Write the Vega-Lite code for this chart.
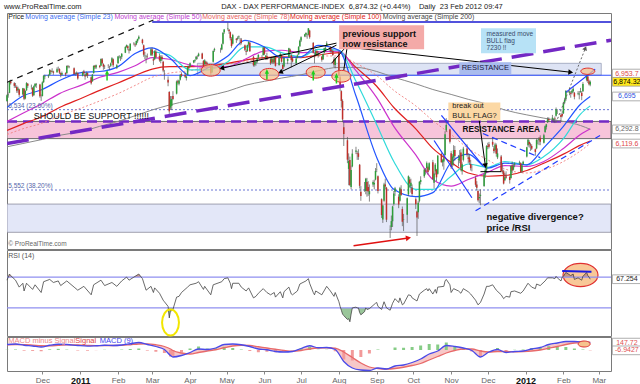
{
"$schema":"https://vega.github.io/schema/vega-lite/v6.json",
"background":"white",
"padding":{"left":3,"top":3,"right":0,"bottom":0},
"autosize":{"type":"pad"},
"bounds":"flush",
"spacing":1,
"title":{"text":"www.ProRealTime.com\u00a0\u00a0\u00a0\u00a0\u00a0\u00a0\u00a0\u00a0\u00a0\u00a0\u00a0\u00a0\u00a0\u00a0\u00a0\u00a0\u00a0\u00a0\u00a0\u00a0\u00a0\u00a0\u00a0\u00a0\u00a0\u00a0\u00a0\u00a0\u00a0\u00a0\u00a0\u00a0\u00a0\u00a0\u00a0\u00a0\u00a0\u00a0\u00a0\u00a0\u00a0\u00a0\u00a0\u00a0\u00a0\u00a0\u00a0\u00a0\u00a0\u00a0\u00a0\u00a0\u00a0\u00a0\u00a0\u00a0\u00a0\u00a0\u00a0\u00a0\u00a0\u00a0\u00a0\u00a0\u00a0\u00a0\u00a0DAX - DAX PERFORMANCE-INDEX\u00a0\u00a06,874.32 (+0.44%)\u00a0\u00a0\u00a0\u00a0Daily\u00a0\u00a023 Feb 2012 09:47","anchor":"start","fontSize":7.5,"fontWeight":"normal","font":"Liberation Sans","color":"#222","offset":2},
"config":{"view":{"stroke":"#7a7a7a","strokeWidth":1},"font":"Liberation Sans","axis":{"labelFont":"Liberation Sans","labelFontSize":8,"labelColor":"#333"}},
"datasets":{
"px":[
{"d":"2010-11-02","o":6640,"h":6720,"l":6630,"c":6709},{"d":"2010-11-03","o":6709,"h":6745,"l":6680,"c":6718},{"d":"2010-11-04","o":6740,"h":6890,"l":6735,"c":6880},{"d":"2010-11-05","o":6880,"h":6900,"l":6840,"c":6857},{"d":"2010-11-08","o":6857,"h":6870,"l":6800,"c":6825},{"d":"2010-11-09","o":6825,"h":6860,"l":6800,"c":6821},{"d":"2010-11-10","o":6810,"h":6830,"l":6740,"c":6766},{"d":"2010-11-11","o":6770,"h":6815,"l":6740,"c":6791},{"d":"2010-11-12","o":6780,"h":6790,"l":6690,"c":6717},{"d":"2010-11-15","o":6720,"h":6800,"l":6715,"c":6794},{"d":"2010-11-16","o":6790,"h":6795,"l":6650,"c":6666},{"d":"2010-11-17","o":6670,"h":6770,"l":6660,"c":6765},{"d":"2010-11-18","o":6770,"h":6870,"l":6765,"c":6858},{"d":"2010-11-19","o":6850,"h":6860,"l":6800,"c":6826},{"d":"2010-11-22","o":6820,"h":6840,"l":6780,"c":6822},{"d":"2010-11-23","o":6800,"h":6810,"l":6690,"c":6705},{"d":"2010-11-24","o":6710,"h":6830,"l":6705,"c":6819},{"d":"2010-11-25","o":6820,"h":6855,"l":6810,"c":6849},{"d":"2010-11-26","o":6840,"h":6860,"l":6800,"c":6848},{"d":"2010-11-29","o":6840,"h":6850,"l":6680,"c":6697},{"d":"2010-11-30","o":6690,"h":6720,"l":6640,"c":6688},
{"d":"2010-12-01","o":6700,"h":6880,"l":6695,"c":6867},{"d":"2010-12-02","o":6870,"h":6955,"l":6860,"c":6948},{"d":"2010-12-03","o":6940,"h":6960,"l":6905,"c":6947},{"d":"2010-12-06","o":6940,"h":6965,"l":6920,"c":6955},{"d":"2010-12-07","o":6960,"h":7030,"l":6955,"c":7018},{"d":"2010-12-08","o":7010,"h":7020,"l":6970,"c":6996},{"d":"2010-12-09","o":7000,"h":7040,"l":6990,"c":7006},{"d":"2010-12-10","o":7000,"h":7010,"l":6960,"c":6985},{"d":"2010-12-13","o":6990,"h":7050,"l":6985,"c":7027},{"d":"2010-12-14","o":7030,"h":7060,"l":7010,"c":7030},{"d":"2010-12-15","o":7030,"h":7040,"l":6970,"c":6986},{"d":"2010-12-16","o":6980,"h":6990,"l":6930,"c":6961},{"d":"2010-12-17","o":6960,"h":7000,"l":6950,"c":6982},{"d":"2010-12-20","o":6980,"h":6990,"l":6940,"c":6964},{"d":"2010-12-21","o":6980,"h":7075,"l":6975,"c":7068},{"d":"2010-12-22","o":7065,"h":7080,"l":7040,"c":7057},{"d":"2010-12-23","o":7055,"h":7070,"l":7040,"c":7057},{"d":"2010-12-27","o":7040,"h":7050,"l":6960,"c":6971},{"d":"2010-12-28","o":6975,"h":6990,"l":6950,"c":6973},{"d":"2010-12-29","o":6975,"h":7000,"l":6960,"c":6984},{"d":"2010-12-30","o":6980,"h":6990,"l":6900,"c":6914},
{"d":"2011-01-03","o":6950,"h":7000,"l":6940,"c":6990},{"d":"2011-01-04","o":7000,"h":7020,"l":6960,"c":6975},{"d":"2011-01-05","o":6960,"h":6970,"l":6900,"c":6939},{"d":"2011-01-06","o":6950,"h":7000,"l":6940,"c":6981},{"d":"2011-01-07","o":6980,"h":6990,"l":6920,"c":6948},{"d":"2011-01-10","o":6930,"h":6940,"l":6840,"c":6857},{"d":"2011-01-11","o":6880,"h":6970,"l":6875,"c":6962},{"d":"2011-01-12","o":6980,"h":7075,"l":6975,"c":7068},{"d":"2011-01-13","o":7070,"h":7080,"l":7030,"c":7053},{"d":"2011-01-14","o":7050,"h":7085,"l":7030,"c":7076},{"d":"2011-01-17","o":7070,"h":7080,"l":7040,"c":7055},{"d":"2011-01-18","o":7070,"h":7160,"l":7065,"c":7154},{"d":"2011-01-19","o":7150,"h":7165,"l":7090,"c":7100},{"d":"2011-01-20","o":7090,"h":7100,"l":7020,"c":7059},{"d":"2011-01-21","o":7060,"h":7080,"l":7030,"c":7062},{"d":"2011-01-24","o":7070,"h":7090,"l":7040,"c":7067},{"d":"2011-01-25","o":7060,"h":7070,"l":7020,"c":7059},{"d":"2011-01-26","o":7070,"h":7110,"l":7055,"c":7099},{"d":"2011-01-27","o":7110,"h":7175,"l":7100,"c":7162},{"d":"2011-01-28","o":7150,"h":7160,"l":7050,"c":7078},{"d":"2011-01-31","o":7050,"h":7090,"l":7030,"c":7077},
{"d":"2011-02-01","o":7100,"h":7190,"l":7095,"c":7184},{"d":"2011-02-02","o":7180,"h":7200,"l":7160,"c":7182},{"d":"2011-02-03","o":7170,"h":7190,"l":7130,"c":7176},{"d":"2011-02-04","o":7180,"h":7225,"l":7150,"c":7217},{"d":"2011-02-07","o":7230,"h":7310,"l":7225,"c":7300},{"d":"2011-02-08","o":7300,"h":7330,"l":7290,"c":7322},{"d":"2011-02-09","o":7310,"h":7320,"l":7260,"c":7283},{"d":"2011-02-10","o":7270,"h":7280,"l":7220,"c":7257},{"d":"2011-02-11","o":7260,"h":7345,"l":7250,"c":7338},{"d":"2011-02-14","o":7340,"h":7360,"l":7320,"c":7336},{"d":"2011-02-15","o":7330,"h":7345,"l":7300,"c":7322},{"d":"2011-02-16","o":7330,"h":7380,"l":7320,"c":7373},{"d":"2011-02-17","o":7370,"h":7400,"l":7350,"c":7399},{"d":"2011-02-18","o":7400,"h":7441,"l":7390,"c":7426},{"d":"2011-02-21","o":7390,"h":7400,"l":7330,"c":7348},{"d":"2011-02-22","o":7320,"h":7330,"l":7180,"c":7205},{"d":"2011-02-23","o":7200,"h":7240,"l":7150,"c":7202},{"d":"2011-02-24","o":7180,"h":7200,"l":7100,"c":7182},{"d":"2011-02-25","o":7190,"h":7220,"l":7160,"c":7185},{"d":"2011-02-28","o":7200,"h":7290,"l":7190,"c":7272},
{"d":"2011-03-01","o":7270,"h":7290,"l":7190,"c":7207},{"d":"2011-03-02","o":7150,"h":7170,"l":7080,"c":7133},{"d":"2011-03-03","o":7150,"h":7260,"l":7140,"c":7247},{"d":"2011-03-04","o":7240,"h":7270,"l":7160,"c":7178},{"d":"2011-03-07","o":7190,"h":7220,"l":7120,"c":7137},{"d":"2011-03-08","o":7130,"h":7200,"l":7100,"c":7178},{"d":"2011-03-09","o":7180,"h":7200,"l":7130,"c":7150},{"d":"2011-03-10","o":7120,"h":7130,"l":6990,"c":7012},{"d":"2011-03-11","o":6980,"h":7020,"l":6900,"c":6981},{"d":"2011-03-14","o":6900,"h":6940,"l":6820,"c":6866},{"d":"2011-03-15","o":6750,"h":6760,"l":6450,"c":6513},{"d":"2011-03-16","o":6560,"h":6700,"l":6530,"c":6657},{"d":"2011-03-17","o":6580,"h":6700,"l":6530,"c":6663},{"d":"2011-03-18","o":6700,"h":6760,"l":6650,"c":6664},{"d":"2011-03-21","o":6730,"h":6890,"l":6720,"c":6877},{"d":"2011-03-22","o":6880,"h":6900,"l":6840,"c":6867},{"d":"2011-03-23","o":6850,"h":6900,"l":6830,"c":6891},{"d":"2011-03-24","o":6900,"h":6970,"l":6890,"c":6959},{"d":"2011-03-25","o":6970,"h":6990,"l":6930,"c":6947},{"d":"2011-03-28","o":6960,"h":6990,"l":6920,"c":6935},{"d":"2011-03-29","o":6920,"h":6950,"l":6890,"c":6938},{"d":"2011-03-30","o":6960,"h":7070,"l":6955,"c":7060},{"d":"2011-03-31","o":7060,"h":7075,"l":7030,"c":7041},
{"d":"2011-04-01","o":7060,"h":7110,"l":7050,"c":7101},{"d":"2011-04-04","o":7110,"h":7140,"l":7100,"c":7135},{"d":"2011-04-05","o":7130,"h":7150,"l":7110,"c":7140},{"d":"2011-04-06","o":7150,"h":7190,"l":7140,"c":7181},{"d":"2011-04-07","o":7180,"h":7200,"l":7150,"c":7179},{"d":"2011-04-08","o":7190,"h":7230,"l":7180,"c":7217},{"d":"2011-04-11","o":7220,"h":7230,"l":7150,"c":7156},{"d":"2011-04-12","o":7130,"h":7140,"l":7060,"c":7068},{"d":"2011-04-13","o":7090,"h":7150,"l":7080,"c":7136},{"d":"2011-04-14","o":7120,"h":7130,"l":7060,"c":7095},{"d":"2011-04-15","o":7100,"h":7120,"l":7060,"c":7093},{"d":"2011-04-18","o":7070,"h":7080,"l":6945,"c":6978},{"d":"2011-04-19","o":6990,"h":7070,"l":6980,"c":7064},{"d":"2011-04-20","o":7120,"h":7260,"l":7110,"c":7250},{"d":"2011-04-21","o":7260,"h":7290,"l":7240,"c":7276},{"d":"2011-04-26","o":7270,"h":7290,"l":7230,"c":7269},{"d":"2011-04-27","o":7270,"h":7340,"l":7260,"c":7329},{"d":"2011-04-28","o":7340,"h":7480,"l":7330,"c":7475},{"d":"2011-04-29","o":7480,"h":7520,"l":7460,"c":7514},
{"d":"2011-05-02","o":7520,"h":7600,"l":7500,"c":7527},{"d":"2011-05-03","o":7510,"h":7520,"l":7460,"c":7492},{"d":"2011-05-04","o":7480,"h":7490,"l":7380,"c":7407},{"d":"2011-05-05","o":7400,"h":7420,"l":7290,"c":7311},{"d":"2011-05-06","o":7340,"h":7460,"l":7330,"c":7445},{"d":"2011-05-09","o":7400,"h":7410,"l":7350,"c":7387},{"d":"2011-05-10","o":7400,"h":7430,"l":7380,"c":7411},{"d":"2011-05-11","o":7420,"h":7440,"l":7400,"c":7427},{"d":"2011-05-12","o":7390,"h":7410,"l":7320,"c":7391},{"d":"2011-05-13","o":7390,"h":7410,"l":7330,"c":7349},{"d":"2011-05-16","o":7320,"h":7330,"l":7250,"c":7266},{"d":"2011-05-17","o":7250,"h":7270,"l":7200,"c":7240},{"d":"2011-05-18","o":7250,"h":7330,"l":7240,"c":7324},{"d":"2011-05-19","o":7330,"h":7370,"l":7310,"c":7361},{"d":"2011-05-20","o":7350,"h":7360,"l":7240,"c":7248},{"d":"2011-05-23","o":7180,"h":7190,"l":7060,"c":7076},{"d":"2011-05-24","o":7080,"h":7130,"l":7060,"c":7118},{"d":"2011-05-25","o":7100,"h":7130,"l":7070,"c":7112},{"d":"2011-05-26","o":7120,"h":7170,"l":7100,"c":7163},{"d":"2011-05-27","o":7170,"h":7210,"l":7150,"c":7205},{"d":"2011-05-30","o":7190,"h":7200,"l":7150,"c":7189},{"d":"2011-05-31","o":7200,"h":7300,"l":7200,"c":7294},
{"d":"2011-06-01","o":7290,"h":7300,"l":7200,"c":7217},{"d":"2011-06-02","o":7170,"h":7200,"l":7140,"c":7193},{"d":"2011-06-03","o":7190,"h":7230,"l":7140,"c":7155},{"d":"2011-06-06","o":7150,"h":7170,"l":7080,"c":7099},{"d":"2011-06-07","o":7110,"h":7180,"l":7100,"c":7159},{"d":"2011-06-08","o":7150,"h":7160,"l":7090,"c":7111},{"d":"2011-06-09","o":7110,"h":7190,"l":7100,"c":7183},{"d":"2011-06-10","o":7170,"h":7180,"l":7060,"c":7069},{"d":"2011-06-13","o":7080,"h":7170,"l":7070,"c":7162},{"d":"2011-06-14","o":7170,"h":7230,"l":7160,"c":7215},{"d":"2011-06-15","o":7200,"h":7210,"l":7110,"c":7120},{"d":"2011-06-16","o":7080,"h":7100,"l":7010,"c":7032},{"d":"2011-06-17","o":7060,"h":7180,"l":7050,"c":7164},{"d":"2011-06-20","o":7130,"h":7160,"l":7090,"c":7152},{"d":"2011-06-21","o":7170,"h":7290,"l":7165,"c":7285},{"d":"2011-06-22","o":7270,"h":7280,"l":7220,"c":7239},{"d":"2011-06-23","o":7200,"h":7210,"l":7050,"c":7140},{"d":"2011-06-24","o":7160,"h":7180,"l":7110,"c":7122},{"d":"2011-06-27","o":7100,"h":7170,"l":7080,"c":7158},{"d":"2011-06-28","o":7170,"h":7210,"l":7160,"c":7195},{"d":"2011-06-29","o":7210,"h":7310,"l":7200,"c":7301},{"d":"2011-06-30","o":7310,"h":7390,"l":7300,"c":7376},
{"d":"2011-07-01","o":7380,"h":7430,"l":7360,"c":7419},{"d":"2011-07-04","o":7430,"h":7460,"l":7420,"c":7454},{"d":"2011-07-05","o":7450,"h":7480,"l":7420,"c":7472},{"d":"2011-07-06","o":7440,"h":7460,"l":7400,"c":7439},{"d":"2011-07-07","o":7450,"h":7530,"l":7440,"c":7528},{"d":"2011-07-08","o":7500,"h":7510,"l":7400,"c":7419},{"d":"2011-07-11","o":7350,"h":7360,"l":7220,"c":7231},{"d":"2011-07-12","o":7180,"h":7230,"l":7100,"c":7174},{"d":"2011-07-13","o":7200,"h":7270,"l":7190,"c":7248},{"d":"2011-07-14","o":7250,"h":7260,"l":7200,"c":7220},{"d":"2011-07-15","o":7200,"h":7250,"l":7170,"c":7220},{"d":"2011-07-18","o":7180,"h":7190,"l":7120,"c":7144},{"d":"2011-07-19","o":7150,"h":7220,"l":7140,"c":7214},{"d":"2011-07-20","o":7230,"h":7290,"l":7220,"c":7285},{"d":"2011-07-21","o":7270,"h":7310,"l":7240,"c":7291},{"d":"2011-07-22","o":7320,"h":7370,"l":7310,"c":7344},{"d":"2011-07-25","o":7300,"h":7310,"l":7230,"c":7250},{"d":"2011-07-26","o":7260,"h":7290,"l":7230,"c":7253},{"d":"2011-07-27","o":7250,"h":7270,"l":7190,"c":7203},{"d":"2011-07-28","o":7150,"h":7180,"l":7050,"c":7085},{"d":"2011-07-29","o":7080,"h":7170,"l":7040,"c":7158},
{"d":"2011-08-01","o":7230,"h":7250,"l":6940,"c":6954},{"d":"2011-08-02","o":6930,"h":6950,"l":6760,"c":6797},{"d":"2011-08-03","o":6760,"h":6770,"l":6560,"c":6640},{"d":"2011-08-04","o":6640,"h":6660,"l":6380,"c":6415},{"d":"2011-08-05","o":6320,"h":6380,"l":6090,"c":6236},{"d":"2011-08-08","o":6160,"h":6200,"l":5880,"c":5923},{"d":"2011-08-09","o":5810,"h":6000,"l":5610,"c":5906},{"d":"2011-08-10","o":5920,"h":5960,"l":5600,"c":5613},{"d":"2011-08-11","o":5590,"h":5850,"l":5560,"c":5797},{"d":"2011-08-12","o":5840,"h":6050,"l":5830,"c":5997},{"d":"2011-08-15","o":6020,"h":6080,"l":5990,"c":6034},{"d":"2011-08-16","o":6000,"h":6030,"l":5920,"c":5995},{"d":"2011-08-17","o":6000,"h":6050,"l":5920,"c":5957},{"d":"2011-08-18","o":5860,"h":5870,"l":5570,"c":5603},{"d":"2011-08-19","o":5530,"h":5600,"l":5420,"c":5480},{"d":"2011-08-22","o":5560,"h":5650,"l":5530,"c":5562},{"d":"2011-08-23","o":5540,"h":5700,"l":5500,"c":5689},{"d":"2011-08-24","o":5650,"h":5700,"l":5470,"c":5540},{"d":"2011-08-25","o":5590,"h":5660,"l":5480,"c":5534},{"d":"2011-08-26","o":5500,"h":5620,"l":5410,"c":5538},{"d":"2011-08-29","o":5620,"h":5670,"l":5590,"c":5651},{"d":"2011-08-30","o":5620,"h":5680,"l":5560,"c":5638},{"d":"2011-08-31","o":5680,"h":5820,"l":5670,"c":5785},
{"d":"2011-09-01","o":5800,"h":5880,"l":5770,"c":5803},{"d":"2011-09-02","o":5720,"h":5730,"l":5510,"c":5541},{"d":"2011-09-05","o":5440,"h":5450,"l":5210,"c":5246},{"d":"2011-09-06","o":5190,"h":5370,"l":5150,"c":5364},{"d":"2011-09-07","o":5420,"h":5640,"l":5400,"c":5620},{"d":"2011-09-08","o":5620,"h":5690,"l":5560,"c":5595},{"d":"2011-09-09","o":5580,"h":5590,"l":5160,"c":5189},{"d":"2011-09-12","o":5070,"h":5120,"l":4966,"c":5072},{"d":"2011-09-13","o":5100,"h":5240,"l":5060,"c":5172},{"d":"2011-09-14","o":5170,"h":5360,"l":5100,"c":5351},{"d":"2011-09-15","o":5380,"h":5540,"l":5360,"c":5508},{"d":"2011-09-16","o":5530,"h":5590,"l":5480,"c":5573},{"d":"2011-09-19","o":5470,"h":5500,"l":5330,"c":5375},{"d":"2011-09-20","o":5420,"h":5590,"l":5410,"c":5572},{"d":"2011-09-21","o":5560,"h":5610,"l":5480,"c":5492},{"d":"2011-09-22","o":5320,"h":5350,"l":5110,"c":5164},{"d":"2011-09-23","o":5190,"h":5260,"l":5050,"c":5196},{"d":"2011-09-26","o":5250,"h":5460,"l":5150,"c":5450},{"d":"2011-09-27","o":5500,"h":5730,"l":5480,"c":5720},{"d":"2011-09-28","o":5680,"h":5710,"l":5580,"c":5632},{"d":"2011-09-29","o":5600,"h":5690,"l":5520,"c":5640},{"d":"2011-09-30","o":5580,"h":5620,"l":5480,"c":5502},
{"d":"2011-10-03","o":5440,"h":5460,"l":5320,"c":5377},{"d":"2011-10-04","o":5290,"h":5300,"l":4990,"c":5217},{"d":"2011-10-05","o":5280,"h":5420,"l":5200,"c":5396},{"d":"2011-10-06","o":5420,"h":5660,"l":5400,"c":5653},{"d":"2011-10-07","o":5650,"h":5720,"l":5620,"c":5675},{"d":"2011-10-10","o":5720,"h":5810,"l":5700,"c":5800},{"d":"2011-10-11","o":5790,"h":5820,"l":5740,"c":5778},{"d":"2011-10-12","o":5820,"h":5900,"l":5780,"c":5880},{"d":"2011-10-13","o":5830,"h":5850,"l":5740,"c":5772},{"d":"2011-10-14","o":5800,"h":5890,"l":5790,"c":5880},{"d":"2011-10-17","o":5890,"h":5920,"l":5680,"c":5687},{"d":"2011-10-18","o":5640,"h":5780,"l":5570,"c":5754},{"d":"2011-10-19","o":5780,"h":5880,"l":5740,"c":5861},{"d":"2011-10-20","o":5800,"h":5810,"l":5660,"c":5707},{"d":"2011-10-21","o":5750,"h":5980,"l":5740,"c":5971},{"d":"2011-10-24","o":5990,"h":6010,"l":5890,"c":5890},{"d":"2011-10-25","o":5890,"h":5930,"l":5840,"c":5916},{"d":"2011-10-26","o":5900,"h":5990,"l":5800,"c":5940},{"d":"2011-10-27","o":5980,"h":6270,"l":5970,"c":6234},{"d":"2011-10-28","o":6280,"h":6430,"l":6260,"c":6346},{"d":"2011-10-31","o":6290,"h":6300,"l":6120,"c":6141},
{"d":"2011-11-01","o":6000,"h":6030,"l":5810,"c":5834},{"d":"2011-11-02","o":5860,"h":5990,"l":5830,"c":5961},{"d":"2011-11-03","o":5950,"h":6100,"l":5850,"c":6039},{"d":"2011-11-04","o":6040,"h":6090,"l":5910,"c":5966},{"d":"2011-11-07","o":5920,"h":5980,"l":5840,"c":5929},{"d":"2011-11-08","o":5910,"h":6040,"l":5880,"c":5962},{"d":"2011-11-09","o":6010,"h":6050,"l":5780,"c":5824},{"d":"2011-11-10","o":5780,"h":5890,"l":5740,"c":5868},{"d":"2011-11-11","o":5920,"h":6080,"l":5900,"c":6057},{"d":"2011-11-14","o":6060,"h":6110,"l":5960,"c":5985},{"d":"2011-11-15","o":5950,"h":6000,"l":5880,"c":5933},{"d":"2011-11-16","o":5950,"h":5990,"l":5860,"c":5893},{"d":"2011-11-17","o":5870,"h":5920,"l":5790,"c":5819},{"d":"2011-11-18","o":5800,"h":5860,"l":5780,"c":5800},{"d":"2011-11-21","o":5700,"h":5720,"l":5590,"c":5616},{"d":"2011-11-22","o":5620,"h":5660,"l":5550,"c":5580},{"d":"2011-11-23","o":5540,"h":5560,"l":5410,"c":5428},{"d":"2011-11-24","o":5450,"h":5510,"l":5390,"c":5467},{"d":"2011-11-25","o":5480,"h":5560,"l":5366,"c":5493},{"d":"2011-11-28","o":5600,"h":5750,"l":5590,"c":5745},{"d":"2011-11-29","o":5740,"h":5820,"l":5700,"c":5800},{"d":"2011-11-30","o":5800,"h":6100,"l":5760,"c":6089},
{"d":"2011-12-01","o":6090,"h":6130,"l":6050,"c":6081},{"d":"2011-12-02","o":6110,"h":6140,"l":6060,"c":6080},{"d":"2011-12-05","o":6140,"h":6190,"l":6080,"c":6106},{"d":"2011-12-06","o":6060,"h":6090,"l":6000,"c":6029},{"d":"2011-12-07","o":6040,"h":6130,"l":6010,"c":6109},{"d":"2011-12-08","o":6100,"h":6120,"l":5960,"c":5994},{"d":"2011-12-09","o":5950,"h":6060,"l":5930,"c":6000},{"d":"2011-12-12","o":5960,"h":5980,"l":5770,"c":5785},{"d":"2011-12-13","o":5790,"h":5880,"l":5750,"c":5775},{"d":"2011-12-14","o":5780,"h":5800,"l":5620,"c":5631},{"d":"2011-12-15","o":5670,"h":5760,"l":5660,"c":5708},{"d":"2011-12-16","o":5720,"h":5780,"l":5690,"c":5701},{"d":"2011-12-19","o":5710,"h":5730,"l":5630,"c":5673},{"d":"2011-12-20","o":5700,"h":5850,"l":5690,"c":5845},{"d":"2011-12-21","o":5850,"h":5900,"l":5760,"c":5791},{"d":"2011-12-22","o":5800,"h":5870,"l":5790,"c":5848},{"d":"2011-12-23","o":5860,"h":5890,"l":5830,"c":5878},{"d":"2011-12-27","o":5880,"h":5910,"l":5860,"c":5890},{"d":"2011-12-28","o":5880,"h":5890,"l":5760,"c":5771},{"d":"2011-12-29","o":5780,"h":5860,"l":5760,"c":5853},{"d":"2011-12-30","o":5870,"h":5910,"l":5860,"c":5898},
{"d":"2012-01-02","o":5960,"h":6080,"l":5950,"c":6075},{"d":"2012-01-03","o":6100,"h":6180,"l":6080,"c":6166},{"d":"2012-01-04","o":6140,"h":6160,"l":6070,"c":6111},{"d":"2012-01-05","o":6110,"h":6130,"l":6030,"c":6095},{"d":"2012-01-06","o":6090,"h":6110,"l":6040,"c":6057},{"d":"2012-01-09","o":6050,"h":6060,"l":5970,"c":6017},{"d":"2012-01-10","o":6060,"h":6180,"l":6050,"c":6163},{"d":"2012-01-11","o":6150,"h":6170,"l":6110,"c":6152},{"d":"2012-01-12","o":6160,"h":6200,"l":6100,"c":6179},{"d":"2012-01-13","o":6190,"h":6220,"l":6100,"c":6143},{"d":"2012-01-16","o":6130,"h":6240,"l":6120,"c":6221},{"d":"2012-01-17","o":6260,"h":6340,"l":6250,"c":6332},{"d":"2012-01-18","o":6320,"h":6360,"l":6290,"c":6354},{"d":"2012-01-19","o":6380,"h":6440,"l":6370,"c":6416},{"d":"2012-01-20","o":6420,"h":6440,"l":6380,"c":6404},{"d":"2012-01-23","o":6420,"h":6470,"l":6390,"c":6436},{"d":"2012-01-24","o":6410,"h":6430,"l":6380,"c":6419},{"d":"2012-01-25","o":6430,"h":6450,"l":6370,"c":6422},{"d":"2012-01-26","o":6460,"h":6560,"l":6450,"c":6539},{"d":"2012-01-27","o":6510,"h":6540,"l":6480,"c":6511},{"d":"2012-01-30","o":6470,"h":6490,"l":6390,"c":6444},{"d":"2012-01-31","o":6480,"h":6520,"l":6440,"c":6458},
{"d":"2012-02-01","o":6490,"h":6630,"l":6480,"c":6617},{"d":"2012-02-02","o":6620,"h":6680,"l":6600,"c":6655},{"d":"2012-02-03","o":6660,"h":6770,"l":6640,"c":6766},{"d":"2012-02-06","o":6740,"h":6770,"l":6710,"c":6753},{"d":"2012-02-07","o":6740,"h":6760,"l":6680,"c":6728},{"d":"2012-02-08","o":6740,"h":6780,"l":6720,"c":6764},{"d":"2012-02-09","o":6760,"h":6810,"l":6740,"c":6788},{"d":"2012-02-10","o":6740,"h":6750,"l":6660,"c":6692},{"d":"2012-02-13","o":6730,"h":6760,"l":6710,"c":6738},{"d":"2012-02-14","o":6720,"h":6760,"l":6660,"c":6729},{"d":"2012-02-15","o":6750,"h":6800,"l":6740,"c":6760},{"d":"2012-02-16","o":6740,"h":6760,"l":6650,"c":6700},{"d":"2012-02-17","o":6760,"h":6870,"l":6750,"c":6848},{"d":"2012-02-20","o":6900,"h":6960,"l":6880,"c":6949},{"d":"2012-02-21","o":6940,"h":6960,"l":6860,"c":6885},{"d":"2012-02-22","o":6880,"h":6900,"l":6830,"c":6843},{"d":"2012-02-23","o":6840,"h":6890,"l":6820,"c":6874}
],
"ma":[
{"d":"2010-11-02","b":6560,"cy":null,"mg":6390,"r1":6280,"r2":6230,"g":6080},
{"d":"2010-11-15","b":6700,"cy":null,"mg":6490,"r1":6360,"r2":6300,"g":6120},
{"d":"2010-12-01","b":6780,"cy":null,"mg":6610,"r1":6450,"r2":6370,"g":6170},
{"d":"2010-12-15","b":6890,"cy":null,"mg":6730,"r1":6560,"r2":6460,"g":6220},
{"d":"2011-01-03","b":6990,"cy":null,"mg":6840,"r1":6680,"r2":6560,"g":6270},
{"d":"2011-01-17","b":7000,"cy":null,"mg":6930,"r1":6770,"r2":6640,"g":6330},
{"d":"2011-02-01","b":7060,"cy":null,"mg":6990,"r1":6860,"r2":6730,"g":6390},
{"d":"2011-02-15","b":7220,"cy":null,"mg":7070,"r1":6950,"r2":6830,"g":6460},
{"d":"2011-03-01","b":7290,"cy":7240,"mg":7170,"r1":7030,"r2":6930,"g":6530},
{"d":"2011-03-15","b":7170,"cy":7200,"mg":7150,"r1":7060,"r2":6980,"g":6590},
{"d":"2011-04-01","b":6950,"cy":7020,"mg":7080,"r1":7060,"r2":7010,"g":6650},
{"d":"2011-04-15","b":7040,"cy":7020,"mg":7050,"r1":7070,"r2":7050,"g":6700},
{"d":"2011-05-02","b":7190,"cy":7120,"mg":7060,"r1":7100,"r2":7090,"g":6760},
{"d":"2011-05-16","b":7380,"cy":7300,"mg":7150,"r1":7140,"r2":7120,"g":6830},
{"d":"2011-06-01","b":7300,"cy":7300,"mg":7250,"r1":7170,"r2":7150,"g":6880},
{"d":"2011-06-15","b":7170,"cy":7230,"mg":7260,"r1":7180,"r2":7160,"g":6920},
{"d":"2011-07-01","b":7180,"cy":7180,"mg":7230,"r1":7170,"r2":7180,"g":6960},
{"d":"2011-07-15","b":7320,"cy":7270,"mg":7240,"r1":7200,"r2":7190,"g":7010},
{"d":"2011-08-01","b":7260,"cy":7260,"mg":7250,"r1":7230,"r2":7190,"g":7050},
{"d":"2011-08-15","b":6700,"cy":6880,"mg":7010,"r1":7050,"r2":7100,"g":7050},
{"d":"2011-09-01","b":5950,"cy":6350,"mg":6680,"r1":6820,"r2":6950,"g":7000},
{"d":"2011-09-15","b":5560,"cy":5900,"mg":6330,"r1":6560,"r2":6770,"g":6930},
{"d":"2011-10-03","b":5470,"cy":5560,"mg":5980,"r1":6300,"r2":6580,"g":6850},
{"d":"2011-10-17","b":5520,"cy":5560,"mg":5680,"r1":6060,"r2":6400,"g":6780},
{"d":"2011-11-01","b":5890,"cy":5720,"mg":5600,"r1":5890,"r2":6230,"g":6720},
{"d":"2011-11-15","b":5990,"cy":5870,"mg":5680,"r1":5760,"r2":6060,"g":6660},
{"d":"2011-12-01","b":5820,"cy":5830,"mg":5770,"r1":5720,"r2":5920,"g":6600},
{"d":"2011-12-15","b":5880,"cy":5900,"mg":5850,"r1":5730,"r2":5810,"g":6530},
{"d":"2012-01-02","b":5860,"cy":5860,"mg":5840,"r1":5790,"r2":5760,"g":6470},
{"d":"2012-01-16","b":6070,"cy":5960,"mg":5900,"r1":5880,"r2":5800,"g":6430},
{"d":"2012-02-01","b":6330,"cy":6180,"mg":6060,"r1":5990,"r2":5900,"g":6390},
{"d":"2012-02-15","b":6600,"cy":6480,"mg":6230,"r1":6100,"r2":6030,"g":6340},
{"d":"2012-02-23","b":6695,"cy":6580,"mg":6300,"r1":6150,"r2":6120,"g":6293}
],
"rsi":[
{"d":"2010-11-02","v":66},{"d":"2010-11-03","v":70},{"d":"2010-11-04","v":74},{"d":"2010-11-05","v":72},{"d":"2010-11-09","v":66},{"d":"2010-11-12","v":57},{"d":"2010-11-15","v":62},{"d":"2010-11-16","v":52},{"d":"2010-11-18","v":62},{"d":"2010-11-23","v":54},{"d":"2010-11-25","v":60},{"d":"2010-11-30","v":50},{"d":"2010-12-02","v":64},{"d":"2010-12-07","v":67},{"d":"2010-12-10","v":63},{"d":"2010-12-14","v":65},{"d":"2010-12-16","v":59},{"d":"2010-12-21","v":65},{"d":"2010-12-27","v":57},{"d":"2010-12-30","v":53},
{"d":"2011-01-04","v":58},{"d":"2011-01-10","v":47},{"d":"2011-01-12","v":60},{"d":"2011-01-18","v":66},{"d":"2011-01-21","v":59},{"d":"2011-01-27","v":63},{"d":"2011-01-31","v":58},{"d":"2011-02-04","v":65},{"d":"2011-02-08","v":70},{"d":"2011-02-10","v":66},{"d":"2011-02-14","v":70},{"d":"2011-02-18","v":74},{"d":"2011-02-21","v":68},{"d":"2011-02-24","v":53},{"d":"2011-02-28","v":58},{"d":"2011-03-02","v":50},{"d":"2011-03-03","v":56},{"d":"2011-03-07","v":49},{"d":"2011-03-10","v":40},{"d":"2011-03-11","v":38},{"d":"2011-03-14","v":32},{"d":"2011-03-15","v":17},{"d":"2011-03-16","v":27},{"d":"2011-03-17","v":26},{"d":"2011-03-18","v":28},{"d":"2011-03-21","v":44},{"d":"2011-03-23","v":45},{"d":"2011-03-25","v":50},{"d":"2011-03-30","v":57},{"d":"2011-04-01","v":60},{"d":"2011-04-06","v":62},{"d":"2011-04-08","v":64},{"d":"2011-04-12","v":54},{"d":"2011-04-13","v":58},{"d":"2011-04-18","v":47},{"d":"2011-04-20","v":60},{"d":"2011-04-27","v":64},{"d":"2011-04-29","v":68},{"d":"2011-05-02","v":69},{"d":"2011-05-04","v":62},{"d":"2011-05-05","v":55},{"d":"2011-05-06","v":62},{"d":"2011-05-11","v":62},{"d":"2011-05-13","v":57},{"d":"2011-05-17","v":52},{"d":"2011-05-19","v":56},{"d":"2011-05-23","v":43},{"d":"2011-05-25","v":45},{"d":"2011-05-27","v":49},{"d":"2011-05-31","v":55},{"d":"2011-06-03","v":50},{"d":"2011-06-06","v":47},{"d":"2011-06-09","v":50},{"d":"2011-06-10","v":44},{"d":"2011-06-14","v":51},{"d":"2011-06-16","v":43},{"d":"2011-06-17","v":51},{"d":"2011-06-21","v":57},{"d":"2011-06-23","v":48},{"d":"2011-06-24","v":47},{"d":"2011-06-28","v":52},{"d":"2011-06-30","v":61},{"d":"2011-07-05","v":65},{"d":"2011-07-07","v":68},{"d":"2011-07-08","v":62},{"d":"2011-07-11","v":50},{"d":"2011-07-12","v":47},{"d":"2011-07-13","v":52},{"d":"2011-07-18","v":47},{"d":"2011-07-22","v":58},{"d":"2011-07-25","v":52},{"d":"2011-07-28","v":45},{"d":"2011-07-29","v":50},
{"d":"2011-08-01","v":38},{"d":"2011-08-02","v":32},{"d":"2011-08-03","v":27},{"d":"2011-08-04","v":22},{"d":"2011-08-05","v":20},{"d":"2011-08-08","v":15},{"d":"2011-08-09","v":16},{"d":"2011-08-10","v":12},{"d":"2011-08-11","v":22},{"d":"2011-08-12","v":30},{"d":"2011-08-15","v":31},{"d":"2011-08-16","v":30},{"d":"2011-08-17","v":30},{"d":"2011-08-18","v":24},{"d":"2011-08-19","v":21},{"d":"2011-08-22","v":25},{"d":"2011-08-23","v":30},{"d":"2011-08-24","v":28},{"d":"2011-08-26","v":29},{"d":"2011-08-31","v":36},{"d":"2011-09-01","v":37},{"d":"2011-09-02","v":32},{"d":"2011-09-05","v":28},{"d":"2011-09-07","v":38},{"d":"2011-09-09","v":30},{"d":"2011-09-12","v":27},{"d":"2011-09-14","v":36},{"d":"2011-09-16","v":42},{"d":"2011-09-19","v":37},{"d":"2011-09-20","v":43},{"d":"2011-09-22","v":34},{"d":"2011-09-23","v":35},{"d":"2011-09-27","v":47},{"d":"2011-09-29","v":46},{"d":"2011-09-30","v":43},{"d":"2011-10-04","v":39},{"d":"2011-10-06","v":48},{"d":"2011-10-10","v":53},{"d":"2011-10-12","v":55},{"d":"2011-10-13","v":52},{"d":"2011-10-14","v":55},{"d":"2011-10-17","v":48},{"d":"2011-10-19","v":54},{"d":"2011-10-20","v":49},{"d":"2011-10-21","v":57},{"d":"2011-10-26","v":58},{"d":"2011-10-27","v":65},{"d":"2011-10-28","v":67},{"d":"2011-10-31","v":60},{"d":"2011-11-01","v":50},{"d":"2011-11-03","v":55},{"d":"2011-11-07","v":52},{"d":"2011-11-09","v":49},{"d":"2011-11-11","v":55},{"d":"2011-11-15","v":51},{"d":"2011-11-17","v":48},{"d":"2011-11-21","v":40},{"d":"2011-11-23","v":34},{"d":"2011-11-25","v":37},{"d":"2011-11-28","v":48},{"d":"2011-11-30","v":58},{"d":"2011-12-02","v":58},{"d":"2011-12-05","v":60},{"d":"2011-12-08","v":53},{"d":"2011-12-12","v":47},{"d":"2011-12-14","v":42},{"d":"2011-12-16","v":45},{"d":"2011-12-19","v":44},{"d":"2011-12-20","v":51},{"d":"2011-12-23","v":52},{"d":"2011-12-28","v":49},{"d":"2011-12-30","v":52},
{"d":"2012-01-03","v":62},{"d":"2012-01-06","v":57},{"d":"2012-01-09","v":55},{"d":"2012-01-10","v":61},{"d":"2012-01-13","v":59},{"d":"2012-01-17","v":65},{"d":"2012-01-19","v":69},{"d":"2012-01-23","v":69},{"d":"2012-01-25","v":68},{"d":"2012-01-26","v":71},{"d":"2012-01-27","v":69},{"d":"2012-01-30","v":65},{"d":"2012-01-31","v":70},{"d":"2012-02-01","v":71},{"d":"2012-02-03","v":76},{"d":"2012-02-07","v":72},{"d":"2012-02-09","v":74},{"d":"2012-02-10","v":67},{"d":"2012-02-13","v":69},{"d":"2012-02-16","v":66},{"d":"2012-02-17","v":71},{"d":"2012-02-20","v":76},{"d":"2012-02-21","v":72},{"d":"2012-02-22","v":70},{"d":"2012-02-23","v":67.254}
],
"macd":[
{"d":"2010-11-02","m":110,"s":105,"h":5},{"d":"2010-11-09","m":120,"s":110,"h":10},{"d":"2010-11-16","m":95,"s":108,"h":-13},{"d":"2010-11-23","m":80,"s":98,"h":-18},{"d":"2010-11-30","m":60,"s":85,"h":-25},{"d":"2010-12-07","m":95,"s":82,"h":13},{"d":"2010-12-14","m":115,"s":92,"h":23},{"d":"2010-12-21","m":110,"s":102,"h":8},{"d":"2010-12-30","m":90,"s":100,"h":-10},{"d":"2011-01-07","m":78,"s":92,"h":-14},{"d":"2011-01-14","m":85,"s":88,"h":-3},{"d":"2011-01-21","m":95,"s":90,"h":5},{"d":"2011-01-28","m":90,"s":90,"h":0},{"d":"2011-02-04","m":100,"s":92,"h":8},{"d":"2011-02-11","m":125,"s":105,"h":20},{"d":"2011-02-18","m":150,"s":120,"h":30},{"d":"2011-02-25","m":110,"s":122,"h":-12},{"d":"2011-03-04","m":70,"s":105,"h":-35},{"d":"2011-03-11","m":10,"s":70,"h":-60},{"d":"2011-03-16","m":-110,"s":20,"h":-130},{"d":"2011-03-18","m":-140,"s":-10,"h":-130},{"d":"2011-03-25","m":-110,"s":-60,"h":-50},{"d":"2011-04-01","m":-50,"s":-80,"h":30},{"d":"2011-04-08","m":20,"s":-50,"h":70},{"d":"2011-04-15","m":10,"s":-20,"h":30},{"d":"2011-04-22","m":40,"s":5,"h":35},{"d":"2011-04-29","m":110,"s":45,"h":65},{"d":"2011-05-06","m":120,"s":80,"h":40},{"d":"2011-05-13","m":105,"s":95,"h":10},{"d":"2011-05-20","m":70,"s":90,"h":-20},{"d":"2011-05-27","m":20,"s":65,"h":-45},{"d":"2011-06-03","m":5,"s":40,"h":-35},{"d":"2011-06-10","m":-30,"s":15,"h":-45},{"d":"2011-06-17","m":-40,"s":-10,"h":-30},{"d":"2011-06-24","m":-30,"s":-25,"h":-5},{"d":"2011-07-01","m":30,"s":-10,"h":40},{"d":"2011-07-08","m":85,"s":20,"h":65},{"d":"2011-07-15","m":45,"s":40,"h":5},{"d":"2011-07-22","m":50,"s":45,"h":5},{"d":"2011-07-29","m":10,"s":35,"h":-25},{"d":"2011-08-05","m":-230,"s":-40,"h":-190},{"d":"2011-08-12","m":-360,"s":-150,"h":-210},{"d":"2011-08-19","m":-400,"s":-260,"h":-140},{"d":"2011-08-26","m":-410,"s":-340,"h":-70},{"d":"2011-09-02","m":-360,"s":-370,"h":10},{"d":"2011-09-09","m":-380,"s":-380,"h":0},{"d":"2011-09-16","m":-320,"s":-370,"h":50},{"d":"2011-09-23","m":-300,"s":-345,"h":45},{"d":"2011-09-30","m":-250,"s":-310,"h":60},{"d":"2011-10-07","m":-180,"s":-270,"h":90},{"d":"2011-10-14","m":-80,"s":-200,"h":120},{"d":"2011-10-21","m":-20,"s":-130,"h":110},{"d":"2011-10-28","m":90,"s":-60,"h":150},{"d":"2011-11-04","m":70,"s":-10,"h":80},{"d":"2011-11-11","m":40,"s":20,"h":20},{"d":"2011-11-18","m":-10,"s":20,"h":-30},{"d":"2011-11-25","m":-140,"s":-20,"h":-120},{"d":"2011-12-02","m":-40,"s":-40,"h":0},{"d":"2011-12-09","m":10,"s":-30,"h":40},{"d":"2011-12-16","m":-50,"s":-30,"h":-20},{"d":"2011-12-23","m":-30,"s":-35,"h":5},{"d":"2011-12-30","m":-20,"s":-30,"h":10},{"d":"2012-01-06","m":20,"s":-20,"h":40},{"d":"2012-01-13","m":50,"s":0,"h":50},{"d":"2012-01-20","m":110,"s":35,"h":75},{"d":"2012-01-27","m":140,"s":70,"h":70},{"d":"2012-02-03","m":170,"s":110,"h":60},{"d":"2012-02-10","m":170,"s":140,"h":30},{"d":"2012-02-17","m":160,"s":150,"h":10},{"d":"2012-02-23","m":147.72,"s":154.66,"h":-6.94}
]
},
"vconcat":[
{
"width":604,"height":236,
"resolve":{"scale":{"color":"independent","fill":"independent"}},
"encoding":{"x":{"field":"d","type":"temporal","scale":{"type":"utc","domain":[{"year":2010,"month":11,"date":2,"utc":true},{"year":2012,"month":3,"date":11,"utc":true}]},"axis":null}},
"layer":[
{"data":{"values":[{"d":"2010-11-02","d2":"2012-03-11","p":5035,"p2":5380}],"format":{"parse":{"d":"date","d2":"date"}}},"mark":{"type":"rect","fill":"#e3e7f8","stroke":"#8c8c9c","strokeWidth":0.8,"clip":true},"encoding":{"x2":{"field":"d2"},"y":{"field":"p","type":"quantitative","scale":{"domain":[4831,7715]},"title":null,"axis":{"orient":"right","values":[5000,5500,6000,6500,7000,7500],"format":",","grid":true,"gridColor":"#e2e2e2","tickSize":3,"tickColor":"#888","labelFontSize":8,"labelColor":"#333","domain":false,"labelPadding":2}},"y2":{"field":"p2"}}},
{"data":{"values":[{"d":"2010-11-02","d2":"2012-03-11","p":6180,"p2":6390}],"format":{"parse":{"d":"date","d2":"date"}}},"mark":{"type":"rect","fill":"#f7c4da","stroke":"#6a6a6a","strokeWidth":1,"clip":true},"encoding":{"x2":{"field":"d2"},"y":{"field":"p","type":"quantitative","scale":{"domain":[4831,7715]},"axis":null},"y2":{"field":"p2"}}},
{"data":{"values":[{"d":"2011-04-07","d2":"2012-03-03","p":6955,"p2":7100}],"format":{"parse":{"d":"date","d2":"date"}}},"mark":{"type":"rect","fill":"#dde3f4","stroke":"#98a0b8","strokeWidth":0.8},"encoding":{"x2":{"field":"d2"},"y":{"field":"p","type":"quantitative","scale":{"domain":[4831,7715]},"axis":null},"y2":{"field":"p2"}}},
{"data":{"values":[{"d":"2011-03-01","d2":"2012-03-11","p":7604}],"format":{"parse":{"d":"date","d2":"date"}}},"mark":{"type":"rule","color":"#1818d0","strokeWidth":1.5,"clip":true},"encoding":{"x2":{"field":"d2"},"y":{"field":"p","type":"quantitative","scale":{"domain":[4831,7715]},"axis":null}}},
{"data":{"values":[{"d":"2010-12-02","d2":"2012-03-11","p":6954}],"format":{"parse":{"d":"date","d2":"date"}}},"mark":{"type":"rule","color":"#3050ff","strokeWidth":1.2,"clip":true},"encoding":{"x2":{"field":"d2"},"y":{"field":"p","type":"quantitative","scale":{"domain":[4831,7715]},"axis":null}}},
{"data":{"values":[{"d":"2010-11-02","d2":"2012-03-11","p":6534},{"d":"2010-11-02","d2":"2012-03-11","p":5552}],"format":{"parse":{"d":"date","d2":"date"}}},"mark":{"type":"rule","color":"#5a68d0","strokeWidth":0.9,"strokeDash":[2,2],"clip":true},"encoding":{"x2":{"field":"d2"},"y":{"field":"p","type":"quantitative","scale":{"domain":[4831,7715]},"axis":null}}},
{"data":{"values":[{"d":"2010-11-02","d2":"2012-03-11","p":6390}],"format":{"parse":{"d":"date","d2":"date"}}},"mark":{"type":"rule","color":"#7328c4","strokeWidth":2.5,"strokeDash":[10,6],"clip":true},"encoding":{"x2":{"field":"d2"},"y":{"field":"p","type":"quantitative","scale":{"domain":[4831,7715]},"axis":null}}},
{"data":{"name":"ma"},"mark":{"type":"line","color":"#8a8a8a","strokeWidth":1,"interpolate":"monotone","clip":true},"encoding":{"y":{"field":"g","type":"quantitative","scale":{"domain":[4831,7715]},"axis":null}}},
{"data":{"name":"ma"},"mark":{"type":"line","color":"#f08080","strokeWidth":0.9,"strokeDash":[2,2],"interpolate":"monotone","clip":true},"encoding":{"y":{"field":"r2","type":"quantitative","scale":{"domain":[4831,7715]},"axis":null}}},
{"data":{"name":"ma"},"mark":{"type":"line","color":"#e02020","strokeWidth":1.2,"interpolate":"monotone","clip":true},"encoding":{"y":{"field":"r1","type":"quantitative","scale":{"domain":[4831,7715]},"axis":null}}},
{"data":{"name":"ma"},"mark":{"type":"line","color":"#cc33cc","strokeWidth":1.2,"interpolate":"monotone","clip":true},"encoding":{"y":{"field":"mg","type":"quantitative","scale":{"domain":[4831,7715]},"axis":null}}},
{"data":{"name":"ma"},"mark":{"type":"line","color":"#30dada","strokeWidth":1.2,"interpolate":"monotone","clip":true},"encoding":{"y":{"field":"cy","type":"quantitative","scale":{"domain":[4831,7715]},"axis":null}}},
{"data":{"name":"ma"},"mark":{"type":"line","color":"#2255ff","strokeWidth":1.2,"interpolate":"monotone","clip":true},"encoding":{"y":{"field":"b","type":"quantitative","scale":{"domain":[4831,7715]},"axis":null}}},
{"data":{"name":"px"},"mark":{"type":"rule","color":"#555","strokeWidth":0.7},"encoding":{"y":{"field":"l","type":"quantitative","scale":{"domain":[4831,7715]},"axis":null},"y2":{"field":"h"}}},
{"data":{"name":"px"},"mark":{"type":"rule","strokeWidth":1.5},"encoding":{"y":{"field":"o","type":"quantitative","scale":{"domain":[4831,7715]},"axis":null},"y2":{"field":"c"},"color":{"condition":{"test":"datum.c>=datum.o","value":"#2e9e3a"},"value":"#c0302a"}}},
{"data":{"values":[{"d":"2010-11-02","p":6120,"d2":"2012-03-11","p2":7383}],"format":{"parse":{"d":"date","d2":"date"}}},"mark":{"type":"rule","color":"#7328c4","strokeWidth":3.5,"strokeDash":[22,10],"clip":true},"encoding":{"x2":{"field":"d2"},"y":{"field":"p","type":"quantitative","scale":{"domain":[4831,7715]},"axis":null},"y2":{"field":"p2"}}},
{"data":{"values":[{"d":"2010-11-02","p":6868,"d2":"2011-03-02","p2":7629}],"format":{"parse":{"d":"date","d2":"date"}}},"mark":{"type":"rule","color":"#111","strokeWidth":1.2,"strokeDash":[6,5],"clip":true},"encoding":{"x2":{"field":"d2"},"y":{"field":"p","type":"quantitative","scale":{"domain":[4831,7715]},"axis":null},"y2":{"field":"p2"}}},
{"data":{"values":[{"d":"2011-10-24","p":6463,"d2":"2011-11-27","p2":5850},{"d":"2011-10-18","p":6157,"d2":"2011-11-18","p2":5457},{"d":"2012-02-03","p":6745,"d2":"2012-02-27","p2":7028}],"format":{"parse":{"d":"date","d2":"date"}}},"mark":{"type":"rule","color":"#1f3cff","strokeWidth":1.2},"encoding":{"x2":{"field":"d2"},"y":{"field":"p","type":"quantitative","scale":{"domain":[4831,7715]},"axis":null},"y2":{"field":"p2"}}},
{"data":{"values":[{"d":"2011-11-21","p":5298,"d2":"2012-03-02","p2":6218},{"d":"2011-11-27","p":6242,"d2":"2012-01-13","p2":5948}],"format":{"parse":{"d":"date","d2":"date"}}},"mark":{"type":"rule","color":"#1f3cff","strokeWidth":1.2,"strokeDash":[6,4]},"encoding":{"x2":{"field":"d2"},"y":{"field":"p","type":"quantitative","scale":{"domain":[4831,7715]},"axis":null},"y2":{"field":"p2"}}},
{"data":{"values":[{"d":"2011-08-16","p":7285,"d2":"2012-02-07","p2":6991},{"d":"2011-07-30","p":7347,"d2":"2011-04-27","p2":7040},{"d":"2011-07-30","p":7322,"d2":"2011-06-14","p2":6991},{"d":"2011-08-08","p":7322,"d2":"2011-07-26","p2":7101},{"d":"2011-08-08","p":7322,"d2":"2011-08-05","p2":7015},{"d":"2011-11-24","p":6402,"d2":"2011-11-29","p2":5850},{"d":"2011-11-25","p":5776,"d2":"2011-12-12","p2":5776}],"format":{"parse":{"d":"date","d2":"date"}}},"mark":{"type":"rule","color":"#000","strokeWidth":1},"encoding":{"x2":{"field":"d2"},"y":{"field":"p","type":"quantitative","scale":{"domain":[4831,7715]},"axis":null},"y2":{"field":"p2"}}},
{"data":{"values":[{"d":"2012-01-26","p":6377,"d2":"2012-02-19","p2":7285}],"format":{"parse":{"d":"date","d2":"date"}}},"mark":{"type":"rule","color":"#666","strokeWidth":1,"strokeDash":[2,2]},"encoding":{"x2":{"field":"d2"},"y":{"field":"p","type":"quantitative","scale":{"domain":[4831,7715]},"axis":null},"y2":{"field":"p2"}}},
{"data":{"values":[{"d":"2011-08-13","p":4870,"d2":"2011-09-27","p2":4966}],"format":{"parse":{"d":"date","d2":"date"}}},"mark":{"type":"rule","color":"#e01010","strokeWidth":1.5},"encoding":{"x2":{"field":"d2"},"y":{"field":"p","type":"quantitative","scale":{"domain":[4831,7715]},"axis":null},"y2":{"field":"p2"}}},
{"data":{"values":[{"d":"2012-02-07","p":6991}]},"mark":{"type":"point","shape":"triangle-right","filled":true,"color":"#000","size":30,"angle":6,"opacity":1},"encoding":{"y":{"field":"p","type":"quantitative","scale":{"domain":[4831,7715]},"axis":null}}},
{"data":{"values":[{"d":"2011-04-27","p":7040}]},"mark":{"type":"point","shape":"triangle-right","filled":true,"color":"#000","size":30,"angle":168,"opacity":1},"encoding":{"y":{"field":"p","type":"quantitative","scale":{"domain":[4831,7715]},"axis":null}}},
{"data":{"values":[{"d":"2011-06-14","p":6991}]},"mark":{"type":"point","shape":"triangle-right","filled":true,"color":"#000","size":30,"angle":155,"opacity":1},"encoding":{"y":{"field":"p","type":"quantitative","scale":{"domain":[4831,7715]},"axis":null}}},
{"data":{"values":[{"d":"2011-11-29","p":5850}]},"mark":{"type":"point","shape":"triangle-right","filled":true,"color":"#000","size":30,"angle":82,"opacity":1},"encoding":{"y":{"field":"p","type":"quantitative","scale":{"domain":[4831,7715]},"axis":null}}},
{"data":{"values":[{"d":"2012-02-19","p":7285}]},"mark":{"type":"point","shape":"triangle-right","filled":true,"color":"#555","size":25,"angle":291,"opacity":1},"encoding":{"y":{"field":"p","type":"quantitative","scale":{"domain":[4831,7715]},"axis":null}}},
{"data":{"values":[{"d":"2011-09-27","p":4966}]},"mark":{"type":"point","shape":"triangle-right","filled":true,"color":"#e01010","size":35,"angle":351,"opacity":1},"encoding":{"y":{"field":"p","type":"quantitative","scale":{"domain":[4831,7715]},"axis":null}}},
{"data":{"values":[{"d":"2011-04-18","p":7015},{"d":"2011-06-05","p":6966},{"d":"2011-07-13","p":6991},{"d":"2011-08-03","p":6942}]},"mark":{"type":"point","shape":"M-1,0A1,0.62,0,1,1,1,0A1,0.62,0,1,1,-1,0Z","size":360,"filled":true,"fill":"#f6c38e","fillOpacity":0.75,"stroke":"#e03030","strokeWidth":1,"opacity":1},"encoding":{"y":{"field":"p","type":"quantitative","scale":{"domain":[4831,7715]},"axis":null}}},
{"data":{"values":[{"d":"2012-02-21","p":7003}]},"mark":{"type":"point","shape":"M-1,0A1,0.45,0,1,1,1,0A1,0.45,0,1,1,-1,0Z","size":196,"filled":true,"fill":"#f6c38e","fillOpacity":0.75,"stroke":"#e03030","strokeWidth":1,"opacity":1},"encoding":{"y":{"field":"p","type":"quantitative","scale":{"domain":[4831,7715]},"axis":null}}},
{"data":{"values":[{"d":"2011-01-23","p":6954},{"d":"2011-06-03","p":6966},{"d":"2011-07-11","p":6954},{"d":"2011-07-30","p":6917}]},"mark":{"type":"point","shape":"arrow","size":110,"filled":true,"color":"#1fcf1f","opacity":1},"encoding":{"y":{"field":"p","type":"quantitative","scale":{"domain":[4831,7715]},"axis":null}}},
{"data":{"values":[{"d":"2011-09-05","p":7420}]},"mark":{"type":"point","shape":"M-1,-0.282H1V0.282H-1Z","size":7225,"filled":true,"color":"#f4aaa8","opacity":1},"encoding":{"y":{"field":"p","type":"quantitative","scale":{"domain":[4831,7715]},"axis":null}}},
{"data":{"values":[{"d":"2011-12-18","p":7377}]},"mark":{"type":"point","shape":"M-1,-0.4545H1V0.4545H-1Z","size":3025,"filled":true,"color":"#b7e2f6","opacity":1},"encoding":{"y":{"field":"p","type":"quantitative","scale":{"domain":[4831,7715]},"axis":null}}},
{"data":{"values":[{"d":"2011-11-29","p":7040}]},"mark":{"type":"point","shape":"M-1,-0.23H1V0.23H-1Z","size":2704,"filled":true,"color":"#a9bcee","opacity":1},"encoding":{"y":{"field":"p","type":"quantitative","scale":{"domain":[4831,7715]},"axis":null}}},
{"data":{"values":[{"d":"2011-11-20","p":6512}]},"mark":{"type":"point","shape":"M-1,-0.346H1V0.346H-1Z","size":2704,"filled":true,"color":"#fcd8a4","opacity":1},"encoding":{"y":{"field":"p","type":"quantitative","scale":{"domain":[4831,7715]},"axis":null}}},
{"data":{"values":[{"d":"2011-08-04","p":7460,"t":"previous support"},{"d":"2011-08-04","p":7340,"t":"now resistance"}]},"mark":{"type":"text","align":"left","baseline":"middle","fontSize":9,"fontWeight":"bold","color":"#111"},"encoding":{"y":{"field":"p","type":"quantitative","scale":{"domain":[4831,7715]},"axis":null},"text":{"field":"t"}}},
{"data":{"values":[{"d":"2011-11-30","p":7457,"t":"measured move"},{"d":"2011-11-30","p":7371,"t":"BULL flag"},{"d":"2011-11-30","p":7285,"t":"7230 !!"}]},"mark":{"type":"text","align":"left","baseline":"middle","fontSize":6.5,"color":"#3a4a6a"},"encoding":{"y":{"field":"p","type":"quantitative","scale":{"domain":[4831,7715]},"axis":null},"text":{"field":"t"}}},
{"data":{"values":[{"d":"2011-11-29","p":7040,"t":"RESISTANCE"}]},"mark":{"type":"text","align":"center","baseline":"middle","fontSize":7.5,"color":"#1a1a40"},"encoding":{"y":{"field":"p","type":"quantitative","scale":{"domain":[4831,7715]},"axis":null},"text":{"field":"t"}}},
{"data":{"values":[{"d":"2011-11-02","p":6574,"t":"break out"},{"d":"2011-11-02","p":6451,"t":"BULL FLAG?"}]},"mark":{"type":"text","align":"left","baseline":"middle","fontSize":7.5,"color":"#222"},"encoding":{"y":{"field":"p","type":"quantitative","scale":{"domain":[4831,7715]},"axis":null},"text":{"field":"t"}}},
{"data":{"values":[{"d":"2011-12-12","p":6291,"t":"RESISTANCE AREA"}]},"mark":{"type":"text","align":"center","baseline":"middle","fontSize":8.2,"fontWeight":"bold","color":"#111"},"encoding":{"y":{"field":"p","type":"quantitative","scale":{"domain":[4831,7715]},"axis":null},"text":{"field":"t"}}},
{"data":{"values":[{"d":"2010-11-24","p":6451,"t":"SHOULD BE SUPPORT !!!!!!"}]},"mark":{"type":"text","align":"left","baseline":"middle","fontSize":9,"color":"#111"},"encoding":{"y":{"field":"p","type":"quantitative","scale":{"domain":[4831,7715]},"axis":null},"text":{"field":"t"}}},
{"data":{"values":[{"d":"2011-11-30","p":5224,"t":"negative divergence?"},{"d":"2011-11-30","p":5089,"t":"price /RSI"}]},"mark":{"type":"text","align":"left","baseline":"middle","fontSize":9.5,"fontWeight":"bold","color":"#111"},"encoding":{"y":{"field":"p","type":"quantitative","scale":{"domain":[4831,7715]},"axis":null},"text":{"field":"t"}}},
{"data":{"values":[{"d":"2010-11-03","p":6574,"t":"6,534 (23.60%)"},{"d":"2010-11-03","p":5598,"t":"5,552 (38.20%)"}]},"mark":{"type":"text","align":"left","baseline":"middle","fontSize":6.5,"color":"#5566aa"},"encoding":{"y":{"field":"p","type":"quantitative","scale":{"domain":[4831,7715]},"axis":null},"text":{"field":"t"}}},
{"data":{"values":[{"d":"2010-11-03","p":4893,"t":"© ProRealTime.com"}]},"mark":{"type":"text","align":"left","baseline":"middle","fontSize":6.5,"color":"#666"},"encoding":{"y":{"field":"p","type":"quantitative","scale":{"domain":[4831,7715]},"axis":null},"text":{"field":"t"}}},
{"data":{"values":[{"d":"2010-11-03","p":7666,"t":"Price"},{"d":"2010-11-17","p":7666,"t":"Moving average (Simple 23)"},{"d":"2011-01-29","p":7666,"t":"Moving average (Simple 50)"},{"d":"2011-04-11","p":7666,"t":"Moving average (Simple 78)"},{"d":"2011-06-22","p":7666,"t":"Moving average (Simple 100)"},{"d":"2011-09-06","p":7666,"t":"Moving average (Simple 200)"}]},"mark":{"type":"text","align":"left","baseline":"middle","fontSize":7},"encoding":{"y":{"field":"p","type":"quantitative","scale":{"domain":[4831,7715]},"axis":null},"text":{"field":"t"},"color":{"field":"t","type":"nominal","scale":{"domain":["Price","Moving average (Simple 23)","Moving average (Simple 50)","Moving average (Simple 78)","Moving average (Simple 100)","Moving average (Simple 200)"],"range":["#222","#3a6cf0","#c040d0","#e86060","#e02020","#444"]},"legend":null}}},
{"data":{"values":[{"d":"2012-03-24","p":6975,"t":"6,953.7"},{"d":"2012-03-24","p":6874.32,"t":"6,874.32"},{"d":"2012-03-24","p":6695,"t":"6,695"},{"d":"2012-03-24","p":6292.8,"t":"6,292.8"},{"d":"2012-03-24","p":6119.6,"t":"6,119.6"}]},"mark":{"type":"point","shape":"M-1,-0.3H1V0.3H-1Z","size":841,"filled":true,"stroke":"#9a9a9a","strokeWidth":0.8,"opacity":1},"encoding":{"y":{"field":"p","type":"quantitative","scale":{"domain":[4831,7715]},"axis":null},"fill":{"field":"t","type":"nominal","scale":{"domain":["6,953.7","6,874.32","6,695","6,292.8","6,119.6"],"range":["#ffffff","#ffe81a","#ffffff","#ffffff","#ffffff"]},"legend":null}}},
{"data":{"values":[{"d":"2012-03-24","p":6975,"t":"6,953.7"},{"d":"2012-03-24","p":6874.32,"t":"6,874.32"},{"d":"2012-03-24","p":6695,"t":"6,695"},{"d":"2012-03-24","p":6292.8,"t":"6,292.8"},{"d":"2012-03-24","p":6119.6,"t":"6,119.6"}]},"mark":{"type":"text","align":"center","baseline":"middle","fontSize":7},"encoding":{"y":{"field":"p","type":"quantitative","scale":{"domain":[4831,7715]},"axis":null},"text":{"field":"t"},"color":{"field":"t","type":"nominal","scale":{"domain":["6,953.7","6,874.32","6,695","6,292.8","6,119.6"],"range":["#e04848","#000000","#3050e0","#666666","#e04848"]},"legend":null}}}
]
},
{
"width":604,"height":86,
"encoding":{"x":{"field":"d","type":"temporal","scale":{"type":"utc","domain":[{"year":2010,"month":11,"date":2,"utc":true},{"year":2012,"month":3,"date":11,"utc":true}]},"axis":null}},
"layer":[
{"data":{"values":[{"d":"2012-02-15","v":72.7}]},"mark":{"type":"point","shape":"M-1,0A1,0.66,0,1,1,1,0A1,0.66,0,1,1,-1,0Z","size":1225,"filled":true,"fill":"#f8c898","stroke":"#e03030","strokeWidth":1.2,"opacity":1},"encoding":{"y":{"field":"v","type":"quantitative","scale":{"domain":[-6.5,105.2]},"axis":null}}},
{"data":{"values":[{"d":"2010-11-03","v":70,"g":1},{"d":"2010-11-04","v":74,"g":1},{"d":"2010-11-05","v":72,"g":1},{"d":"2010-11-06T08:00:00Z","v":70,"g":1},{"d":"2011-02-14","v":70,"g":2},{"d":"2011-02-18","v":74,"g":2},{"d":"2011-02-20","v":70,"g":2},{"d":"2012-01-31","v":70,"g":3},{"d":"2012-02-01","v":71,"g":3},{"d":"2012-02-03","v":76,"g":3},{"d":"2012-02-07","v":72,"g":3},{"d":"2012-02-09","v":74,"g":3},{"d":"2012-02-09T14:00:00Z","v":70,"g":3},{"d":"2012-02-16T19:00:00Z","v":70,"g":4},{"d":"2012-02-17","v":71,"g":4},{"d":"2012-02-20","v":76,"g":4},{"d":"2012-02-21","v":72,"g":4},{"d":"2012-02-22","v":70,"g":4}],"format":{"parse":{"d":"date"}}},"mark":{"type":"area","color":"#c4907f","opacity":0.9},"encoding":{"y":{"field":"v","type":"quantitative","scale":{"domain":[-6.5,105.2]},"axis":null},"y2":{"datum":70},"detail":{"field":"g"}}},
{"data":{"values":[{"d":"2011-03-14T03:00:00Z","v":30,"g":1},{"d":"2011-03-15","v":17,"g":1},{"d":"2011-03-16","v":27,"g":1},{"d":"2011-03-17","v":26,"g":1},{"d":"2011-03-18","v":28,"g":1},{"d":"2011-03-18T09:00:00Z","v":30,"g":1},{"d":"2011-08-02T10:00:00Z","v":30,"g":2},{"d":"2011-08-03","v":27,"g":2},{"d":"2011-08-04","v":22,"g":2},{"d":"2011-08-05","v":20,"g":2},{"d":"2011-08-08","v":15,"g":2},{"d":"2011-08-09","v":16,"g":2},{"d":"2011-08-10","v":12,"g":2},{"d":"2011-08-11","v":22,"g":2},{"d":"2011-08-12","v":30,"g":2},{"d":"2011-08-17","v":30,"g":3},{"d":"2011-08-18","v":24,"g":3},{"d":"2011-08-19","v":21,"g":3},{"d":"2011-08-22","v":25,"g":3},{"d":"2011-08-23","v":30,"g":3},{"d":"2011-08-24","v":28,"g":3},{"d":"2011-08-26","v":29,"g":3},{"d":"2011-08-26T17:00:00Z","v":30,"g":3}],"format":{"parse":{"d":"date"}}},"mark":{"type":"area","color":"#8fc08f","opacity":0.9},"encoding":{"y":{"field":"v","type":"quantitative","scale":{"domain":[-6.5,105.2]},"axis":null},"y2":{"datum":30},"detail":{"field":"g"}}},
{"data":{"values":[{"d":"2010-11-02","d2":"2012-03-11","v":30},{"d":"2010-11-02","d2":"2012-03-11","v":70}],"format":{"parse":{"d":"date","d2":"date"}}},"mark":{"type":"rule","color":"#8f8ff0","strokeWidth":1.2},"encoding":{"x2":{"field":"d2"},"y":{"field":"v","type":"quantitative","scale":{"domain":[-6.5,105.2]},"axis":null}}},
{"data":{"name":"rsi"},"mark":{"type":"line","color":"#444","strokeWidth":0.8},"encoding":{"y":{"field":"v","type":"quantitative","scale":{"domain":[-6.5,105.2]},"title":null,"axis":{"orient":"right","values":[0,20,40,60,80,100],"grid":true,"gridColor":"#e0e0e0","tickSize":3,"tickColor":"#888","labelFontSize":8,"labelColor":"#333","domain":false,"labelPadding":2}}}},
{"data":{"values":[{"d":"2012-01-31","d2":"2012-02-24","v":78,"v2":77}],"format":{"parse":{"d":"date","d2":"date"}}},"mark":{"type":"rule","color":"#1a1ae0","strokeWidth":2},"encoding":{"x2":{"field":"d2"},"y":{"field":"v","type":"quantitative","scale":{"domain":[-6.5,105.2]},"axis":null},"y2":{"field":"v2"}}},
{"data":{"values":[{"d":"2011-03-16","v":11}]},"mark":{"type":"point","shape":"M0,-1A0.65,1,0,1,1,0,1A0.65,1,0,1,1,0,-1Z","size":676,"filled":false,"stroke":"#f2e600","strokeWidth":2,"opacity":1},"encoding":{"y":{"field":"v","type":"quantitative","scale":{"domain":[-6.5,105.2]},"axis":null}}},
{"data":{"values":[{"d":"2010-11-03","v":97,"t":"RSI (14)"}]},"mark":{"type":"text","align":"left","baseline":"middle","fontSize":7,"color":"#555"},"encoding":{"y":{"field":"v","type":"quantitative","scale":{"domain":[-6.5,105.2]},"axis":null},"text":{"field":"t"}}},
{"data":{"values":[{"d":"2012-03-24","v":67.254}]},"mark":{"type":"point","shape":"M-1,-0.3H1V0.3H-1Z","size":841,"filled":true,"fill":"#ffffff","stroke":"#9a9a9a","strokeWidth":0.8,"opacity":1},"encoding":{"y":{"field":"v","type":"quantitative","scale":{"domain":[-6.5,105.2]},"axis":null}}},
{"data":{"values":[{"d":"2012-03-24","v":67.254,"t":"67.254"}]},"mark":{"type":"text","align":"center","baseline":"middle","fontSize":7,"color":"#222"},"encoding":{"y":{"field":"v","type":"quantitative","scale":{"domain":[-6.5,105.2]},"axis":null},"text":{"field":"t"}}}
]
},
{
"width":604,"height":34,
"resolve":{"scale":{"color":"independent"}},
"encoding":{"x":{"field":"d","type":"temporal","scale":{"type":"utc","domain":[{"year":2010,"month":11,"date":2,"utc":true},{"year":2012,"month":3,"date":11,"utc":true}]},"axis":{"orient":"bottom","tickCount":{"interval":"month","step":1},"labelExpr":"utcmonth(datum.value)==0 ? utcFormat(datum.value,'%Y') : utcFormat(datum.value,'%b')","labelFontWeight":{"condition":{"test":"utcmonth(datum.value)==0","value":"bold"},"value":"normal"},"labelColor":{"condition":{"test":"utcmonth(datum.value)==0","value":"#111"},"value":"#666"},"labelFontSize":{"condition":{"test":"utcmonth(datum.value)==0","value":9},"value":8},"tickSize":3,"tickColor":"#888","domain":false,"grid":false,"labelPadding":2,"labelOverlap":false,"labelFlush":false,"title":null}}},
"layer":[
{"data":{"name":"macd"},"mark":{"type":"area","color":"#f3b0b0","opacity":0.7},"encoding":{"y":{"field":"m","type":"quantitative","scale":{"domain":[-420,260]},"axis":null},"y2":{"field":"s"}}},
{"data":{"name":"macd"},"mark":{"type":"rule","strokeWidth":3},"encoding":{"y":{"field":"h","type":"quantitative","scale":{"domain":[-420,260]},"axis":null},"y2":{"datum":0},"color":{"condition":{"test":"datum.h>=0","value":"#86cc86"},"value":"#f29a9a"}}},
{"data":{"name":"macd"},"mark":{"type":"line","color":"#e86a6a","strokeWidth":1.3,"interpolate":"monotone"},"encoding":{"y":{"field":"s","type":"quantitative","scale":{"domain":[-420,260]},"axis":null}}},
{"data":{"name":"macd"},"mark":{"type":"line","color":"#4a4ae8","strokeWidth":1.3,"interpolate":"monotone"},"encoding":{"y":{"field":"m","type":"quantitative","scale":{"domain":[-420,260]},"title":null,"axis":{"orient":"right","values":[-400,-200,0],"format":"d","grid":true,"gridColor":"#e0e0e0","tickSize":3,"tickColor":"#888","labelFontSize":8,"labelColor":"#333","domain":false,"labelPadding":2}}}},
{"data":{"values":[{"d":"2012-02-18","v":120}]},"mark":{"type":"point","shape":"M-1,0A1,0.5,0,1,1,1,0A1,0.5,0,1,1,-1,0Z","size":144,"filled":true,"fill":"#f6c38e","stroke":"#e03030","strokeWidth":1,"opacity":1},"encoding":{"y":{"field":"v","type":"quantitative","scale":{"domain":[-420,260]},"axis":null}}},
{"data":{"values":[{"d":"2010-11-03","v":180,"t":"MACD minus Signal"},{"d":"2010-12-28","v":180,"t":"Signal"},{"d":"2011-01-17","v":180,"t":"MACD (9)"}]},"mark":{"type":"text","align":"left","baseline":"middle","fontSize":7.5},"encoding":{"y":{"field":"v","type":"quantitative","scale":{"domain":[-420,260]},"axis":null},"text":{"field":"t"},"color":{"field":"t","type":"nominal","scale":{"domain":["MACD minus Signal","Signal","MACD (9)"],"range":["#ee8888","#dd4444","#4444ee"]},"legend":null}}},
{"data":{"values":[{"d":"2012-03-24","v":147.72},{"d":"2012-03-24","v":-6.94}]},"mark":{"type":"point","shape":"M-1,-0.3H1V0.3H-1Z","size":841,"filled":true,"fill":"#ffffff","stroke":"#9a9a9a","strokeWidth":0.8,"opacity":1},"encoding":{"y":{"field":"v","type":"quantitative","scale":{"domain":[-420,260]},"axis":null}}},
{"data":{"values":[{"d":"2012-03-24","v":147.72,"t":"147.72"},{"d":"2012-03-24","v":-6.94,"t":"-6.9427"}]},"mark":{"type":"text","align":"center","baseline":"middle","fontSize":7,"color":"#e05050"},"encoding":{"y":{"field":"v","type":"quantitative","scale":{"domain":[-420,260]},"axis":null},"text":{"field":"t"}}}
]
}
]
}
